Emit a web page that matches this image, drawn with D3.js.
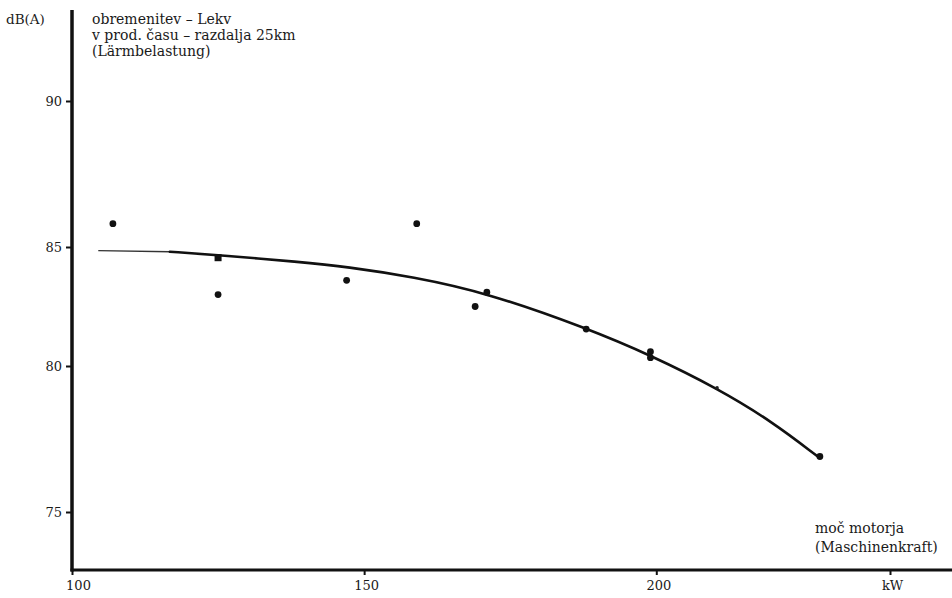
<!DOCTYPE html>
<html>
<head>
<meta charset="utf-8">
<script src="https://cdn.jsdelivr.net/npm/d3@7"></script>
<style>
  html, body { margin: 0; padding: 0; background: #fff; }
  svg { display: block; }
  text { font-family: "DejaVu Serif", serif; fill: #1a1a1a; }
</style>
</head>
<body>
<svg id="chart" width="952" height="598"></svg>
<script>
// ---- data ----
const xTicks = [100, 150, 200, 240];
const xTickLabels = ["100", "150", "200", "kW"];
const yTicks = [75, 80, 85, 90];
const yTickLabels = ["75", "80", "85", "90"];

// measured points (kW, dB(A))
const pointKW = [107, 125, 147, 159, 169, 171, 188, 199, 199, 228];
const pointDB = [85.8, 83.0, 83.6, 85.8, 82.5, 83.1, 81.55, 80.6, 80.35, 76.9];
// square marker
const squareKW = [125];
const squareDB = [84.55];
// faint small mark on the curve
const smallKW = [210.4];
const smallDB = [79.25];

// fitted curve
const curveKW = [104.5, 116.75, 125.3, 139, 147, 158.3, 171.1, 188.2, 199.3, 210.4, 219.8, 227.7];
const curveDB = [84.85, 84.8, 84.66, 84.37, 84.17, 83.75, 83.07, 81.58, 80.42, 79.24, 78.1, 76.89];
const thinUntilKW = 116.75;

const titleLines = ["obremenitev – Lekv", "v prod. času – razdalja 25km", "(Lärmbelastung)"];
const yUnit = "dB(A)";
const xTitleLines = ["moč motorja", "(Maschinenkraft)"];

// ---- scales ----
const svg = d3.select("#chart");
const x = d3.scaleLinear().domain([100, 240]).range([72, 890]);
// scanned original axis spacing is not uniform
const y = d3.scaleLinear().domain([75, 80, 85, 90]).range([512, 366, 247, 101]);

// ---- axes ----
const axisY = 570;
const axisX = 72;

svg.append("line")
  .attr("x1", axisX).attr("x2", axisX)
  .attr("y1", 10).attr("y2", axisY + 1.5)
  .attr("stroke", "#111").attr("stroke-width", 3.5);

svg.append("line")
  .attr("x1", axisX - 1.5).attr("x2", 952)
  .attr("y1", axisY).attr("y2", axisY)
  .attr("stroke", "#111").attr("stroke-width", 3);

const yAxis = d3.axisLeft(y).tickValues(yTicks)
  .tickFormat((d, i) => yTickLabels[i]).tickSize(5).tickPadding(4);
const gy = svg.append("g").attr("transform", `translate(${axisX - 1},0)`).call(yAxis);
gy.select(".domain").remove();
gy.selectAll(".tick line").attr("stroke", "#111").attr("stroke-width", 2);
gy.selectAll(".tick text").attr("font-size", 13).attr("font-family", "DejaVu Serif").attr("fill", "#1a1a1a");

const xAxis = d3.axisBottom(x).tickValues(xTicks)
  .tickFormat((d, i) => xTickLabels[i]).tickSize(4).tickPadding(6);
const gx = svg.append("g").attr("transform", `translate(0,${axisY + 1})`).call(xAxis);
gx.select(".domain").remove();
gx.selectAll(".tick line").attr("stroke", "#111").attr("stroke-width", 2);
gx.selectAll(".tick text").attr("font-size", 13).attr("font-family", "DejaVu Serif").attr("fill", "#1a1a1a")
  .attr("dx", (d, i) => i === 0 ? 6 : 2);

// ---- text ----
svg.append("text").attr("x", 6).attr("y", 24).attr("font-size", 13.5).text(yUnit);
svg.append("text").attr("x", 92).attr("y", 24).attr("font-size", 14)
  .selectAll("tspan").data(titleLines).join("tspan")
  .attr("x", 92).attr("dy", (d, i) => i === 0 ? 0 : 16).text(d => d);

svg.append("text").attr("x", 815).attr("y", 533).attr("font-size", 14)
  .selectAll("tspan").data(xTitleLines).join("tspan")
  .attr("x", 815).attr("dy", (d, i) => i === 0 ? 0 : 19).text(d => d);

// ---- curve ----
const curvePts = curveKW.map((k, i) => [k, curveDB[i]]);
const thinLine = d3.line().x(d => x(d[0])).y(d => y(d[1])).curve(d3.curveMonotoneX);
const thickLine = d3.line().x(d => x(d[0])).y(d => y(d[1])).curve(d3.curveBasis);
const thinPts = curvePts.filter(d => d[0] <= thinUntilKW);
const thickPts = curvePts.filter(d => d[0] >= thinUntilKW);
svg.append("path").attr("d", thinLine(thinPts)).attr("fill", "none")
  .attr("stroke", "#333").attr("stroke-width", 1.3);
svg.append("path").attr("d", thickLine(thickPts)).attr("fill", "none")
  .attr("stroke", "#111").attr("stroke-width", 2.6).attr("stroke-linecap", "round");

// ---- points ----
svg.append("g").selectAll("circle").data(pointKW.map((k, i) => [k, pointDB[i]])).join("circle")
  .attr("cx", d => x(d[0])).attr("cy", d => y(d[1])).attr("r", 3.4).attr("fill", "#111");
svg.append("g").selectAll("rect").data(squareKW.map((k, i) => [k, squareDB[i]])).join("rect")
  .attr("x", d => x(d[0]) - 3.5).attr("y", d => y(d[1]) - 3.5)
  .attr("width", 7).attr("height", 7).attr("fill", "#111");
svg.append("g").selectAll("circle").data(smallKW.map((k, i) => [k, smallDB[i]])).join("circle")
  .attr("cx", d => x(d[0])).attr("cy", d => y(d[1])).attr("r", 1.8).attr("fill", "#222");
</script>
</body>
</html>
